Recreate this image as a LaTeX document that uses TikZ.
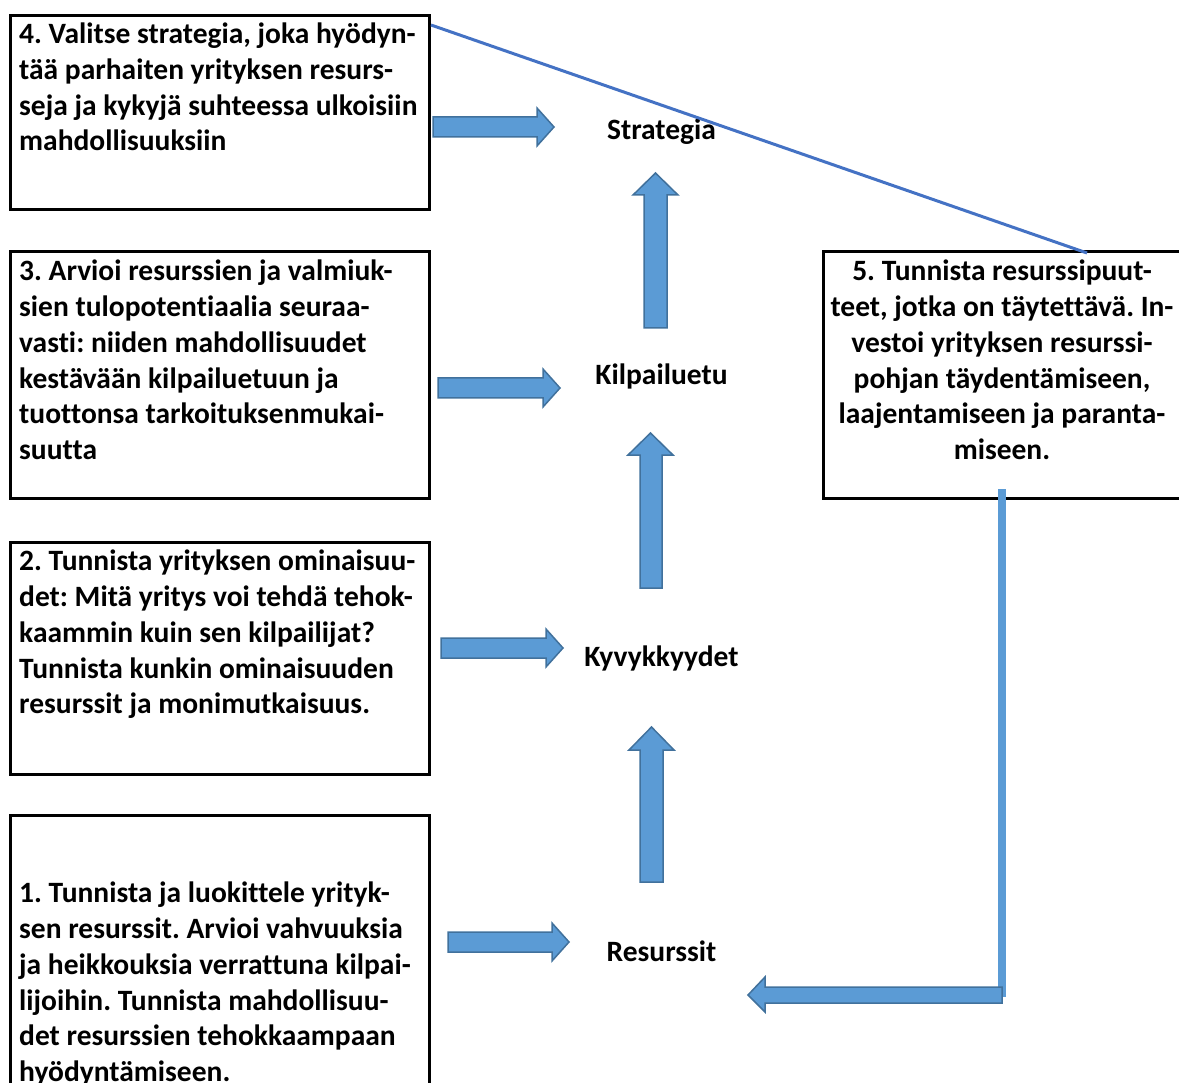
\documentclass[tikz,border=0pt]{standalone}
\usepackage{fontspec}
\setmainfont{Carlito}[Ligatures=NoCommon]
\definecolor{afill}{HTML}{5B9BD5}
\definecolor{aline}{HTML}{41719C}
\definecolor{dline}{HTML}{4472C4}
\begin{document}
\frenchspacing
\begin{tikzpicture}[x=1pt,y=-1pt,
 box/.style={draw=black,line width=3pt,inner sep=0pt,anchor=north west},
 txt/.style={font=\fontsize{29.5}{35.7}\selectfont\bfseries, inner sep=0pt, align=left, anchor=north west},
 ctxt/.style={font=\fontsize{29.5}{35.7}\selectfont\bfseries, inner sep=0pt, align=center, anchor=north},
 lbl/.style={font=\fontsize{29.5}{35}\selectfont\bfseries, inner sep=0pt, anchor=base},
 blk/.style={fill=afill, draw=aline, line width=1.5pt, line join=miter}]
\useasboundingbox (0,0) rectangle (1179,1083);
\clip (0,0) rectangle (1179,1083);
% boxes
\node[box, minimum width=419pt, minimum height=194pt] (b4) at (9,14) {};
\node[box, minimum width=419pt, minimum height=247pt] (b3) at (9,250) {};
\node[box, minimum width=419pt, minimum height=232pt] (b2) at (9,541) {};
\node[box, minimum width=419pt, minimum height=300pt] (b1) at (9,814) {};
\node[box, minimum width=400pt, minimum height=247pt] (b5) at (822,250) {};
% texts
\node[txt] (t4) at (19,23) {4. Valitse strategia, joka hyödyn-\\tää parhaiten yrityksen resurs-\\seja ja kykyjä suhteessa ulkoisiin\\mahdollisuuksiin};
\node[txt] (t3) at (19,260) {3. Arvioi resurssien ja valmiuk-\\sien tulopotentiaalia seuraa-\\vasti: niiden mahdollisuudet\\kestävään kilpailuetuun ja\\tuottonsa tarkoituksenmukai-\\suutta};
\node[txt] (t2) at (19,550) {2. Tunnista yrityksen ominaisuu-\\det: Mitä yritys voi tehdä tehok-\\kaammin kuin sen kilpailijat?\\Tunnista kunkin ominaisuuden\\resurssit ja monimutkaisuus.};
\node[txt] (t1) at (19,882) {1. Tunnista ja luokittele yrityk-\\sen resurssit. Arvioi vahvuuksia\\ja heikkouksia verrattuna kilpai-\\lijoihin. Tunnista mahdollisuu-\\det resurssien tehokkaampaan\\hyödyntämiseen.};
\node[ctxt] (t5) at (1002,260) {5. Tunnista resurssipuut-\\teet, jotka on täytettävä. In-\\vestoi yrityksen resurssi-\\pohjan täydentämiseen,\\laajentamiseen ja paranta-\\miseen.};
% labels
\node[lbl] (strat) at (661.5,139.5) {Strategia};
\node[lbl] (kilp) at (661.5,384.5) {Kilpailuetu};
\node[lbl] (kyv) at (661.5,666.5) {Kyvykkyydet};
\node[lbl] (res) at (661.5,961.5) {Resurssit};
% right block arrows
\draw[blk] (433,117)--(537,117)--(537,108)--(554,127)--(537,146)--(537,137)--(433,137)--cycle;
\draw[blk] (438,378)--(543,378)--(543,369)--(560,388)--(543,407)--(543,398)--(438,398)--cycle;
\draw[blk] (441,638)--(546,638)--(546,629)--(563,648)--(546,667)--(546,658)--(441,658)--cycle;
\draw[blk] (448,932)--(552,932)--(552,923)--(569,942)--(552,961)--(552,952)--(448,952)--cycle;
% up block arrows
\draw[blk] (644,328)--(644,195)--(633,195)--(655.5,173)--(678,195)--(667,195)--(667,328)--cycle;
\draw[blk] (640,588)--(640,455)--(628,455)--(650.5,433)--(673,455)--(662,455)--(662,588)--cycle;
\draw[blk] (640,882)--(640,750)--(629,750)--(651.5,727)--(674,750)--(663,750)--(663,882)--cycle;
% feedback
\coordinate (fb0) at (1002,489);
\coordinate (fb1) at (1002,997);
\draw[afill, line width=8pt] (fb0) -- (fb1);
\draw[blk] (1002,987)--(765,987)--(765,977)--(748,995)--(765,1012)--(765,1003)--(1002,1003)--cycle;
% diagonal
\coordinate (d0) at (431,25);
\coordinate (d1) at (1087,253);
\draw[dline, line width=3pt] (d0) -- (d1);
\end{tikzpicture}
\end{document}
